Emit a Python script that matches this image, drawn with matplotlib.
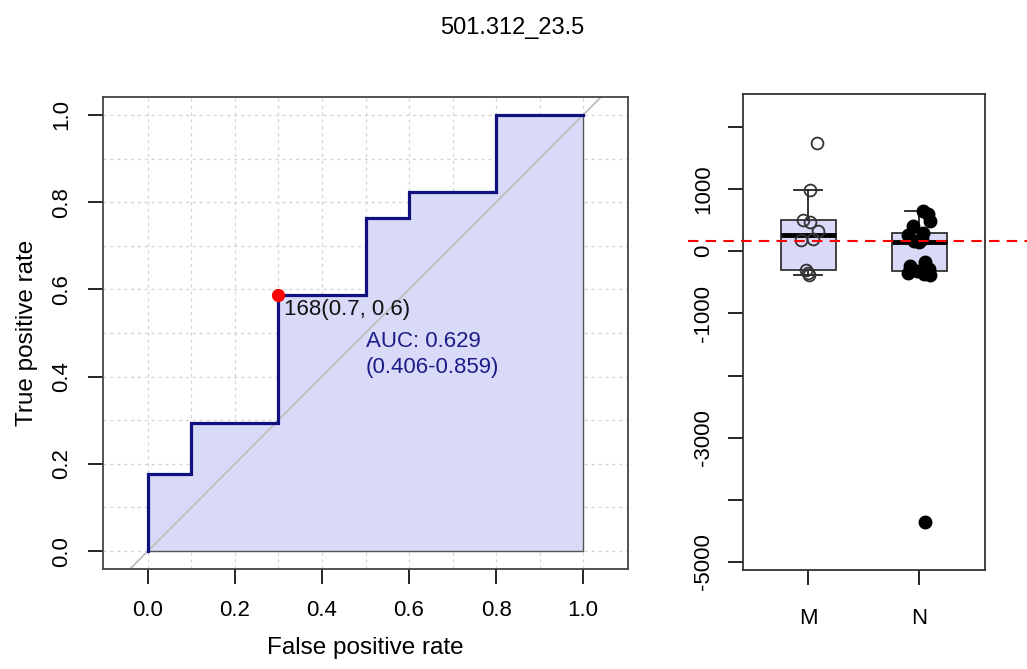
import numpy as np
import matplotlib.pyplot as plt

plt.rcParams['font.family'] = ['Liberation Sans', 'DejaVu Sans']

# ROC curve data
title = "501.312_23.5"
fpr = [0, 0, 0.1, 0.1, 0.3, 0.3, 0.5, 0.5, 0.6, 0.6, 0.8, 0.8, 1.0]
tpr = [0, 3/17, 3/17, 5/17, 5/17, 10/17, 10/17, 13/17, 13/17, 14/17, 14/17, 1.0, 1.0]
best_fpr = 0.3
best_tpr = 10/17
best_label = "168(0.7, 0.6)"
auc_label = "AUC: 0.629\n(0.406-0.859)"

# boxplot data
groups = ["M", "N"]
m_values = [1750, 985, 505, 475, 330, 190, 180, -295, -350, -380]
m_jitter = [0.08, 0.02, -0.045, 0.02, 0.09, 0.04, -0.07, -0.02, 0.0, 0.01]
n_values = [655, 600, 480, 400, 295, 260, 200, 160, 150,
            -180, -240, -290, -320, -350, -365, -380, -4360]
n_jitter = [0.03, 0.08, 0.1, -0.06, 0.03, -0.1, 0.02, -0.05, 0.0,
            0.05, -0.08, 0.09, -0.02, -0.1, 0.04, 0.1, 0.05]
threshold = 168
ytick_vals = [-5000, -4000, -3000, -2000, -1000, 0, 1000, 2000]
ytick_shown = [-5000, -3000, -1000, 0, 1000]

FS = 17
ROC_COL = '#10107f'
TXT_COL = '#1c1c8a'
FILL_COL = '#d9d9f8'


def fivenum(v):
    v = np.sort(np.asarray(v, dtype=float))
    n = len(v)
    n4 = np.floor((n + 3) / 2) / 2
    d = np.array([1, n4, (n + 1) / 2, n + 1 - n4, n]) - 1
    return 0.5 * (v[np.floor(d).astype(int)] + v[np.ceil(d).astype(int)])


def box_stats(v):
    v = np.asarray(v, dtype=float)
    lo, q1, med, q3, hi = fivenum(v)
    iqr = q3 - q1
    inside = v[(v >= q1 - 1.5 * iqr) & (v <= q3 + 1.5 * iqr)]
    return dict(med=med, q1=q1, q3=q3, whislo=inside.min(), whishi=inside.max(), fliers=[])


fig = plt.figure(figsize=(10.27, 6.69), dpi=100)
fig.text(0.4985, 0.958, title, ha='center', va='center', fontsize=FS)

# ---- ROC panel
ax = fig.add_axes([103 / 1027, 1 - 569 / 669, 525 / 1027, 472 / 669])
ax.set_xlim(-0.103, 1.103)
ax.set_ylim(-0.041, 1.041)
for g in np.arange(0, 1.01, 0.1):
    ax.axvline(g, color='#d4d4d4', lw=0.9, ls=(0, (2.5, 3)), zorder=0)
    ax.axhline(g, color='#d4d4d4', lw=0.9, ls=(0, (2.5, 3)), zorder=0)

ax.fill(fpr + [1.0, 0.0], tpr + [0.0, 0.0], facecolor=FILL_COL,
        edgecolor='#555555', lw=1.0, zorder=1)
ax.axline((0, 0), (1, 1), color='#bebebe', lw=1.3, zorder=2)
ax.plot(fpr, tpr, color=ROC_COL, lw=2.3, zorder=3, solid_joinstyle='miter')
ax.plot([best_fpr], [best_tpr], 'o', color='red', ms=8.5, zorder=4)
ax.annotate(best_label, (best_fpr, best_tpr), xytext=(4, -3), textcoords='offset points',
            ha='left', va='top', fontsize=FS - 1, color='#111111', zorder=5)
ax.text(0.5, 0.505, auc_label, ha='left', va='top', fontsize=FS - 1,
        color=TXT_COL, linespacing=1.35, zorder=5)

ax.set_xticks(np.arange(0, 1.01, 0.2))
ax.set_yticks(np.arange(0, 1.01, 0.2))
ax.set_xticklabels([f"{t:.1f}" for t in np.arange(0, 1.01, 0.2)])
ax.set_yticklabels([f"{t:.1f}" for t in np.arange(0, 1.01, 0.2)], rotation=90, va='center')
ax.tick_params(length=11, width=1.2, labelsize=FS - 1, pad=11)
ax.set_xlabel("False positive rate", fontsize=FS + 0.5, labelpad=12)
ax.set_ylabel("True positive rate", fontsize=FS + 0.5, labelpad=10)
for s in ax.spines.values():
    s.set_color('#444444')
    s.set_linewidth(1.3)

# ---- boxplot panel
bx = fig.add_axes([743 / 1027, 1 - 570 / 669, 242 / 1027, 476 / 669])
bx.set_xlim(0.412, 2.592)
bx.set_ylim(-5129, 2531)
stats = [box_stats(m_values), box_stats(n_values)]
bx.bxp(stats, positions=[1, 2], widths=0.5, showfliers=False, patch_artist=True,
       capwidths=0.25,
       boxprops=dict(facecolor=FILL_COL, edgecolor='#333333', lw=1.3),
       medianprops=dict(color='black', lw=3.5),
       whiskerprops=dict(color='#222222', lw=1.3),
       capprops=dict(color='#222222', lw=1.3), zorder=2)
bx.plot(1 + np.array(m_jitter), m_values, 'o', mfc='none', mec='#333333', mew=1.3,
        ms=8.5, zorder=3)
bx.plot(2 + np.array(n_jitter), n_values, 'o', color='black', ms=9, zorder=3)
bx.axhline(threshold, xmin=-0.227, xmax=1.2, color='red', lw=1.5,
           ls=(0, (5, 3.5)), clip_on=False, zorder=4)

bx.set_xticks([1, 2])
bx.set_xticklabels(groups)
bx.set_yticks(ytick_vals)
bx.set_yticklabels([str(v) if v in ytick_shown else '' for v in ytick_vals],
                   rotation=90, va='center')
bx.tick_params(length=11, width=1.2, labelsize=FS - 1, pad=10)
bx.tick_params(axis='x', pad=16)
for s in bx.spines.values():
    s.set_color('#333333')
    s.set_linewidth(1.3)

fig.savefig('out.png', dpi=100)
